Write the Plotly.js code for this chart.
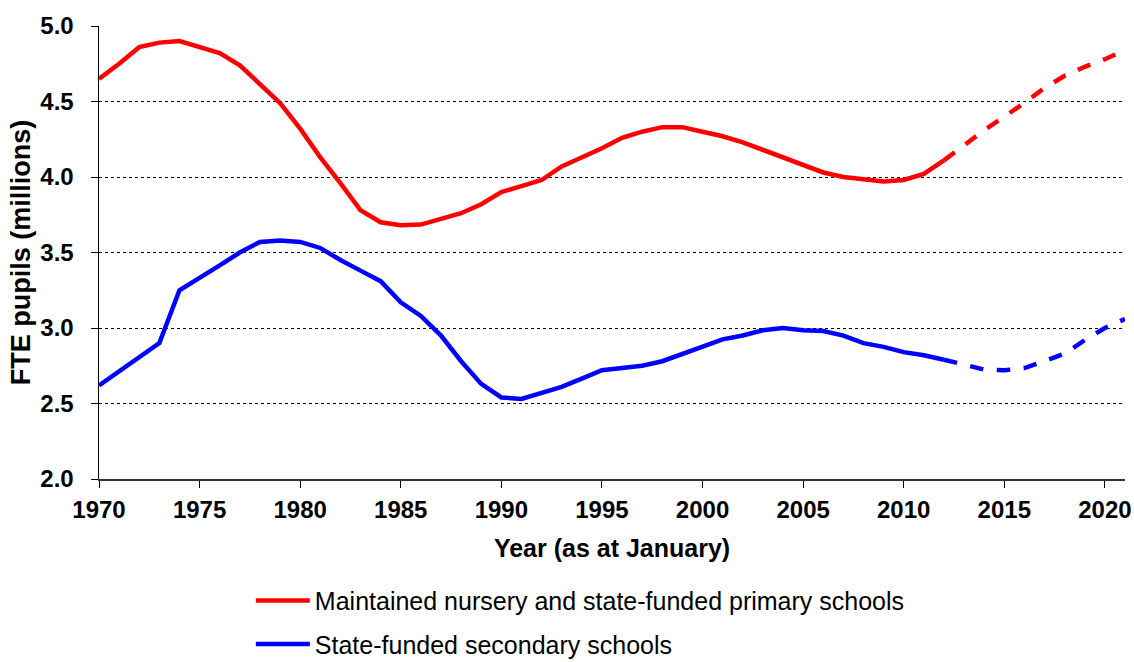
<!DOCTYPE html>
<html>
<head>
<meta charset="utf-8">
<script src="https://cdn.plot.ly/plotly-3.0.1.min.js"></script>
<style>
html,body{margin:0;padding:0;background:#fff;}
#chart{width:1134px;height:662px;}
</style>
</head>
<body>
<div id="chart"></div>
<script>
// Years (as at January)
const years = [1970,1971,1972,1973,1974,1975,1976,1977,1978,1979,
               1980,1981,1982,1983,1984,1985,1986,1987,1988,1989,
               1990,1991,1992,1993,1994,1995,1996,1997,1998,1999,
               2000,2001,2002,2003,2004,2005,2006,2007,2008,2009,
               2010,2011,2012,2013,2014,2015,2016,2017,2018,2019,
               2020,2021];
// First projected year (values from here on are projections, drawn dashed)
const projectionFrom = 2012;

// Maintained nursery and state-funded primary schools (millions FTE)
const primary = [4.65,4.75,4.86,4.89,4.90,4.86,4.82,4.74,4.61,4.49,
                 4.32,4.13,3.96,3.78,3.70,3.68,3.685,3.72,3.76,3.82,
                 3.90,3.94,3.98,4.07,4.13,4.19,4.26,4.30,4.33,4.33,
                 4.30,4.27,4.23,4.18,4.13,4.08,4.03,4.00,3.985,3.97,
                 3.98,4.02,4.11,4.21,4.31,4.40,4.49,4.59,4.67,4.73,
                 4.78,4.84];
// State-funded secondary schools (millions FTE)
const secondary = [2.62,2.715,2.81,2.90,3.25,3.33,3.415,3.50,3.57,3.58,
                   3.57,3.53,3.45,3.38,3.31,3.17,3.08,2.95,2.78,2.63,
                   2.54,2.53,2.57,2.61,2.665,2.72,2.735,2.75,2.78,2.83,
                   2.88,2.925,2.95,2.985,3.00,2.985,2.98,2.95,2.90,2.875,
                   2.84,2.82,2.79,2.755,2.725,2.72,2.735,2.78,2.83,2.92,
                   3.00,3.06];

const seriesNames = ['Maintained nursery and state-funded primary schools',
                     'State-funded secondary schools'];
const seriesColors = ['#ff0000', '#0000ff'];

const xTickVals = [1970,1975,1980,1985,1990,1995,2000,2005,2010,2015,2020];
const yTickVals = [2.0,2.5,3.0,3.5,4.0,4.5,5.0];
const yTickText = ['2.0','2.5','3.0','3.5','4.0','4.5','5.0'];

function split(vals){
  const hx=[],hy=[],px=[],py=[];
  years.forEach((yr,i)=>{
    if(yr<=projectionFrom){hx.push(yr);hy.push(vals[i]);}
    if(yr>=projectionFrom){px.push(yr);py.push(vals[i]);}
  });
  return {hx,hy,px,py};
}

const traces=[];
[primary, secondary].forEach((vals,k)=>{
  const s=split(vals);
  traces.push({x:s.hx,y:s.hy,type:'scatter',mode:'lines',name:seriesNames[k],
    legendgroup:'g'+k,line:{color:seriesColors[k],width:4.5},hoverinfo:'x+y'});
  traces.push({x:s.px,y:s.py,type:'scatter',mode:'lines',name:seriesNames[k]+' (projected)',
    legendgroup:'g'+k,showlegend:false,line:{color:seriesColors[k],width:4.5,dash:'dash'},hoverinfo:'x+y'});
});

const font='"Liberation Sans", Arial, sans-serif';
const layout={
  width:1134,height:662,
  margin:{l:99,r:9,t:26,b:183,autoexpand:false},
  paper_bgcolor:'#fff',plot_bgcolor:'#fff',
  font:{family:font,color:'#000'},
  showlegend:true,
  legend:{orientation:'v',x:0.148,xanchor:'left',y:-0.218,yanchor:'top',itemwidth:54,
    font:{family:font,size:25,color:'#000'},tracegroupgap:8,bgcolor:'rgba(0,0,0,0)'},
  xaxis:{range:[1970,2021],tickmode:'array',tickvals:xTickVals,
    ticks:'outside',ticklen:7,tickcolor:'#000',tickwidth:1,ticklabelstandoff:2,
    showline:true,linecolor:'#333',linewidth:1.5,showgrid:false,zeroline:false,
    tickfont:{family:font,size:24,color:'#000',weight:'bold'},
    title:{text:'<b>Year (as at January)</b>',font:{family:font,size:25,color:'#000'},standoff:17}},
  yaxis:{range:[2.0,5.0],tickmode:'array',tickvals:yTickVals,ticktext:yTickText,
    ticks:'outside',ticklen:7,tickcolor:'#000',tickwidth:1,ticklabelstandoff:12,
    showline:true,linecolor:'#000',linewidth:1.5,
    showgrid:true,gridcolor:'#000',gridwidth:1,griddash:'dot',zeroline:false,
    tickfont:{family:font,size:24,color:'#000',weight:'bold'},
    title:{text:'<b>FTE pupils (millions)</b>',font:{family:font,size:27,color:'#000'},standoff:2}}
};

Plotly.newPlot('chart',traces,layout,{displayModeBar:false,staticPlot:true});
</script>
</body>
</html>
